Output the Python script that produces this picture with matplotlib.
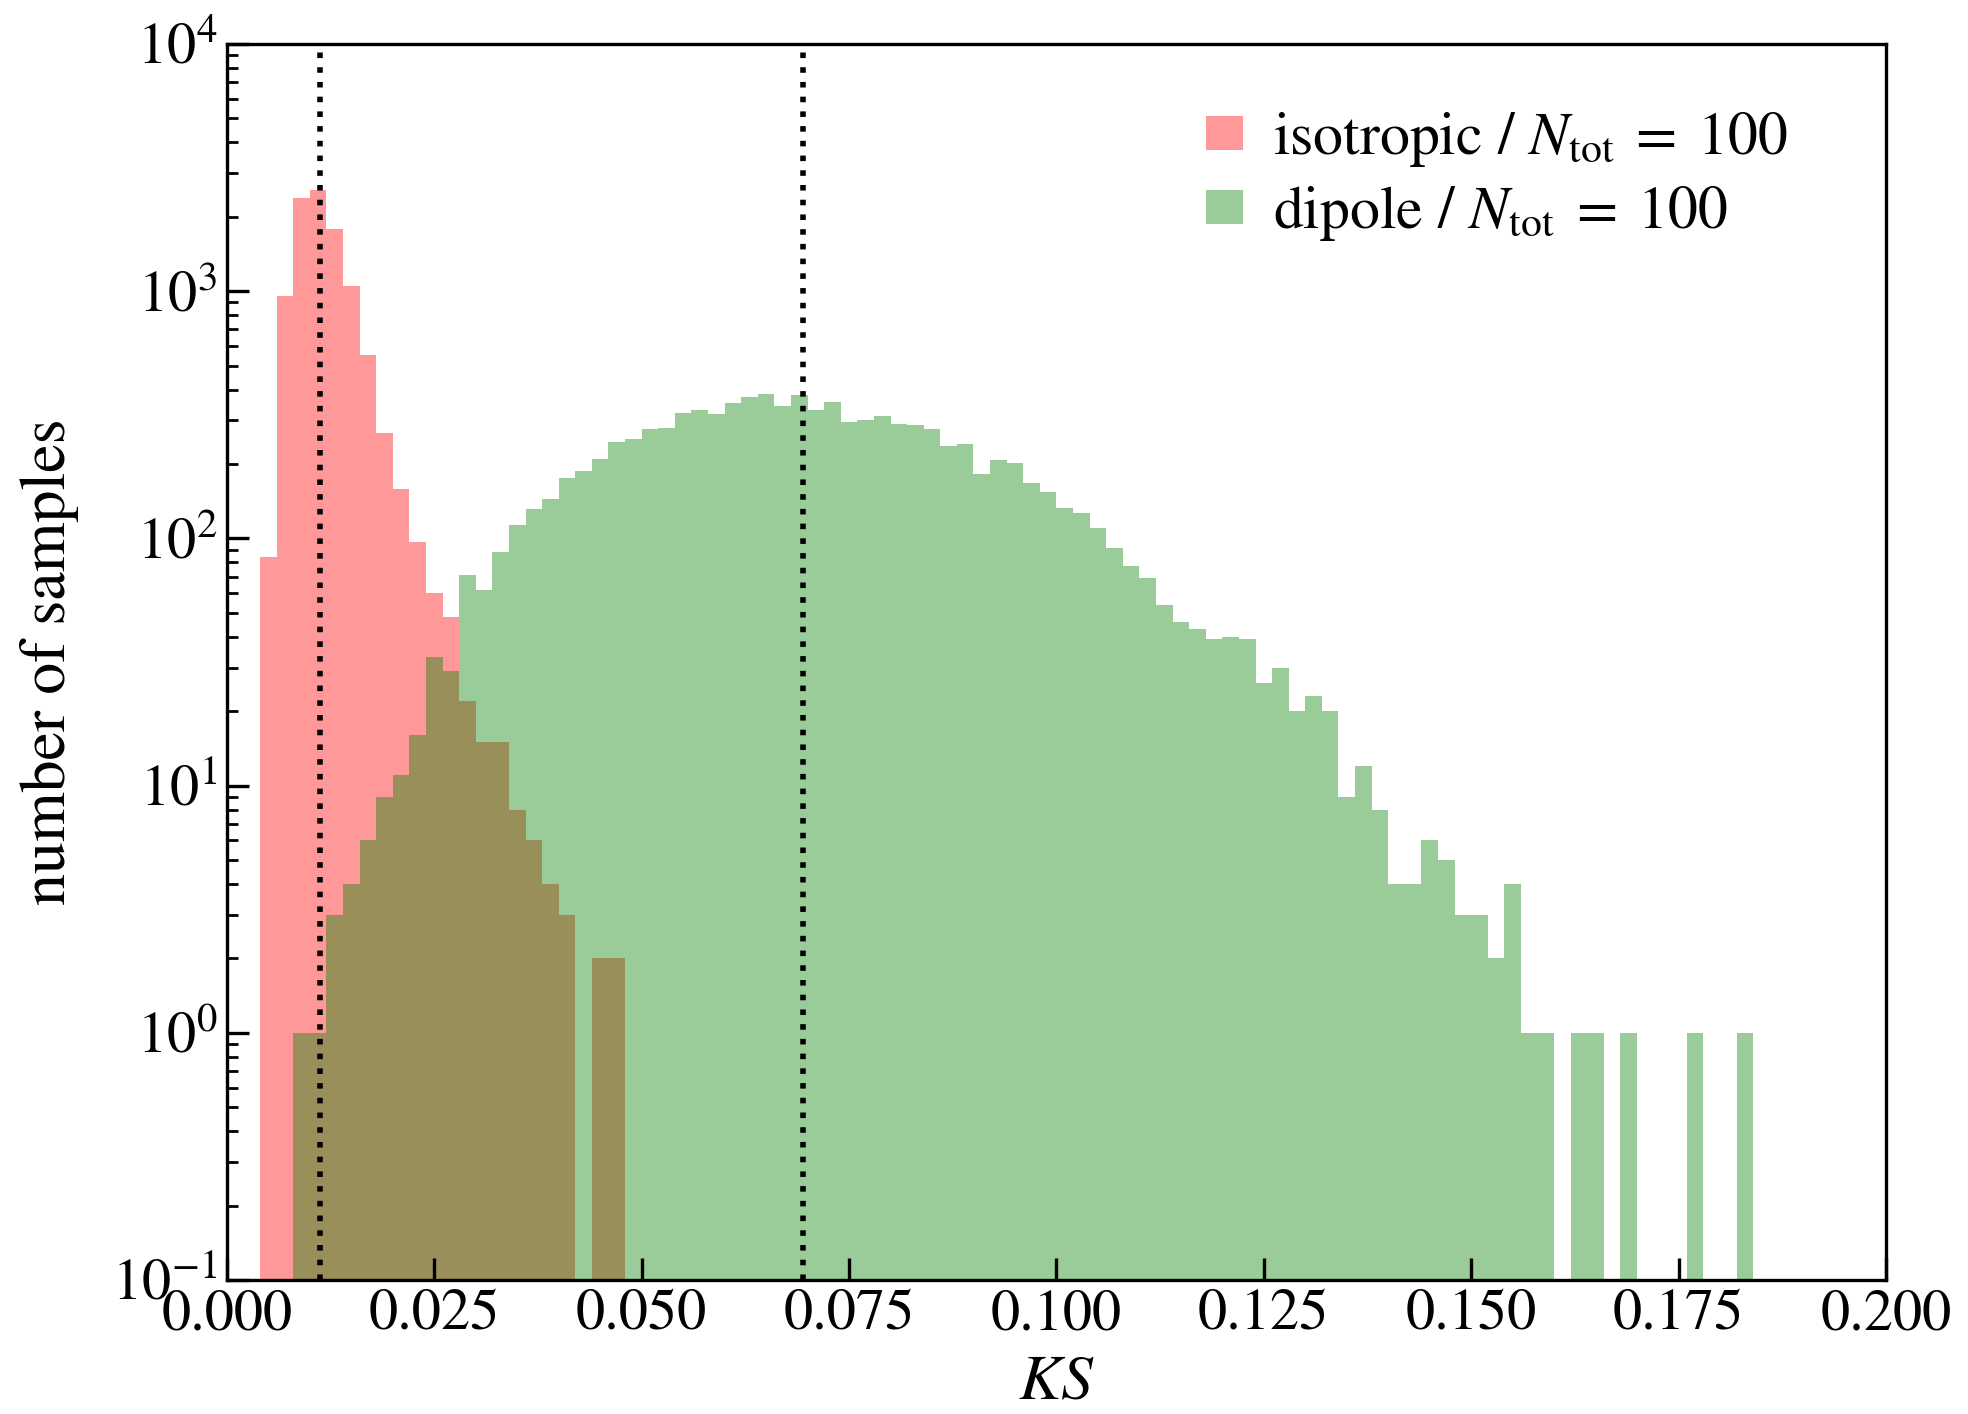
import numpy as np
import matplotlib
matplotlib.use("Agg")
import matplotlib.pyplot as plt

plt.rcParams['font.family'] = ['STIXGeneral', 'DejaVu Serif']
plt.rcParams['mathtext.fontset'] = 'stix'

# KS statistic histograms, bin width 0.002
bin_width = 0.002
iso_start = 0.004
iso_counts = [84, 959, 2375, 2566, 1786, 1049, 552, 267, 158, 97, 60, 48,
              22, 15, 15, 8, 6, 4, 3, 0, 2, 2]

dip_start = 0.008
dip_counts = [1, 1, 3, 4, 6, 9, 11, 16, 33, 29,
              71, 62, 88, 113, 131, 144, 175, 187, 209, 245,
              252, 277, 280, 322, 330, 319, 353, 373, 384, 344,
              380, 330, 356, 296, 301, 313, 290, 288, 277, 237,
              241, 182, 207, 202, 167, 154, 133, 127, 110, 91,
              77, 69, 54, 46, 43, 39, 40, 39, 26, 30,
              20, 23, 20, 9, 12, 8, 4, 4, 6, 5,
              3, 3, 2, 4, 1, 1, 0, 1, 1, 0,
              1, 0, 0, 0, 1, 0, 0, 1]

# mean KS for each case
iso_mean = 0.0112
dip_mean = 0.0694

iso_edges = iso_start + bin_width * np.arange(len(iso_counts) + 1)
dip_edges = dip_start + bin_width * np.arange(len(dip_counts) + 1)

fig = plt.figure(figsize=(9.84, 7.07), dpi=200)
ax = fig.add_axes([0.1153, 0.0948, 0.8430, 0.8741])

ax.hist(iso_edges[:-1] + bin_width / 2, bins=iso_edges, weights=iso_counts,
        color='red', alpha=0.4, log=True,
        label=r'isotropic / $N_{\rm tot}\;=\;100$')
ax.hist(dip_edges[:-1] + bin_width / 2, bins=dip_edges, weights=dip_counts,
        color='green', alpha=0.4, log=True,
        label=r'dipole / $N_{\rm tot}\;=\;100$')

ax.axvline(iso_mean, color='black', ls=':', lw=2)
ax.axvline(dip_mean, color='black', ls=':', lw=2)

ax.set_xlim(0, 0.2)
ax.set_ylim(1e-1, 1e4)
ax.set_xticks([0.0, 0.025, 0.05, 0.075, 0.1, 0.125, 0.15, 0.175, 0.2])
ax.set_xticklabels(['0.000', '0.025', '0.050', '0.075', '0.100',
                    '0.125', '0.150', '0.175', '0.200'])
ax.tick_params(axis='both', which='major', direction='in', labelsize=21,
               length=8, width=1.2)
ax.tick_params(axis='y', which='minor', direction='in', length=4, width=1)
ax.tick_params(axis='x', which='minor', bottom=False)
for s in ax.spines.values():
    s.set_linewidth(1.2)

ax.set_xlabel(r'$KS$', fontsize=23, labelpad=4)
ax.set_ylabel('number of samples', fontsize=23, labelpad=12)

ax.legend(loc='upper right', frameon=False, fontsize=21.5,
          bbox_to_anchor=(0.973, 0.99), handlelength=0.62, handleheight=0.5,
          handletextpad=0.5, labelspacing=0.25)

fig.savefig('out.png', dpi=200)
